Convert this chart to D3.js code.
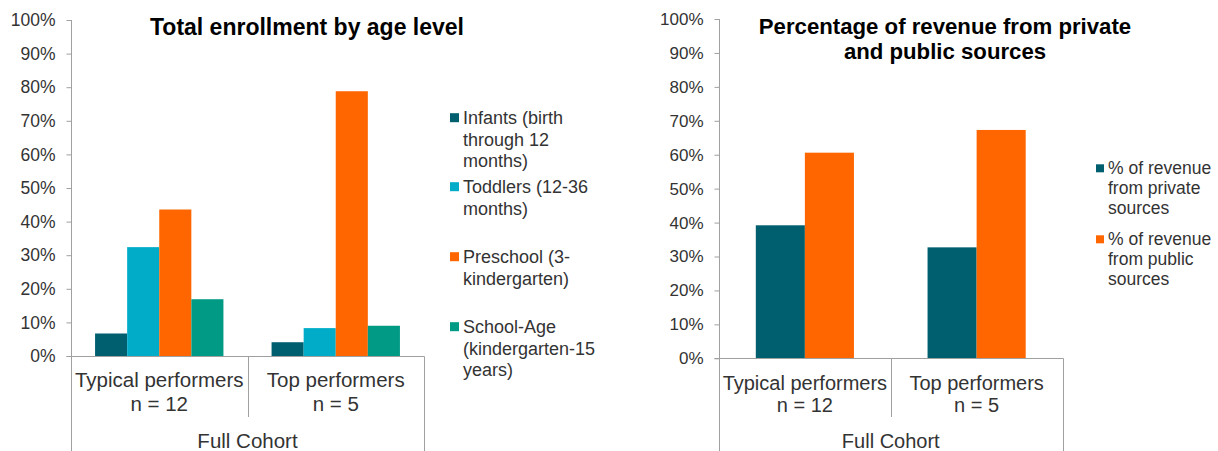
<!DOCTYPE html>
<html>
<head>
<meta charset="utf-8">
<script src="https://cdn.jsdelivr.net/npm/d3@7"></script>
<style>
  html, body { margin: 0; padding: 0; background: #fff; }
  svg { display: block; font-family: "Liberation Sans", Arial, sans-serif; }
</style>
</head>
<body>
<div id="chart"></div>
<script>
// categories shared by both panels
const groupNames = ['Typical performers', 'Top performers'];
const groupCounts = ['n = 12', 'n = 5'];
const cohortLabel = 'Full Cohort';
const yTicks = [0, 10, 20, 30, 40, 50, 60, 70, 80, 90, 100];

// left panel: enrollment by age level (% per group)
const enrollTitle = ['Total enrollment by age level'];
const enrollSeries = [
  ['Infants (birth', 'through 12', 'months)'],
  ['Toddlers (12-36', 'months)'],
  ['Preschool (3-', 'kindergarten)'],
  ['School-Age', '(kindergarten-15', 'years)'],
];
const enrollValues = [
  [6.7, 4.1],
  [32.4, 8.3],
  [43.6, 78.8],
  [16.9, 9.0],
];
const enrollColors = ['#005F6F', '#00ACC8', '#FF6600', '#009A85'];

// right panel: revenue sources
const revenueTitle = ['Percentage of revenue from private', 'and public sources'];
const revenueSeries = [
  ['% of revenue', 'from private', 'sources'],
  ['% of revenue', 'from public', 'sources'],
];
const revenueValues = [
  [39.2, 32.7],
  [60.6, 67.3],
];
const revenueColors = ['#005F6F', '#FF6600'];

const W = 1218, H = 451;
const axisColor = '#A0A0A0';
const textColor = '#333333';

const svg = d3.select('#chart').append('svg')
  .attr('width', W)
  .attr('height', H)
  .attr('viewBox', `0 0 ${W} ${H}`);

function drawPanel(p) {
  const g = svg.append('g');

  const x = d3.scaleBand().domain(groupNames).range([p.x0, p.x1]).padding(0);
  const inner = d3.scaleBand()
    .domain(d3.range(p.values.length))
    .range([0, x.bandwidth()])
    .paddingInner(0)
    .paddingOuter(0.75);
  const y = d3.scaleLinear().domain([0, 100]).range([p.yZero, p.yTop]);

  // bars
  p.values.forEach((vals, si) => {
    g.selectAll(null)
      .data(vals)
      .enter()
      .append('rect')
      .attr('x', (d, gi) => x(groupNames[gi]) + inner(si))
      .attr('y', (d) => y(d))
      .attr('width', inner.bandwidth())
      .attr('height', (d) => y(0) - y(d))
      .attr('fill', p.colors[si]);
  });

  // y axis
  const yAxis = d3.axisLeft(y).tickValues(yTicks).tickSize(5).tickPadding(11)
    .tickFormat((d) => d + '%');
  const ya = g.append('g')
    .attr('transform', `translate(${Math.round(p.x0) + 0.5},0)`)
    .call(yAxis);
  ya.select('.domain').remove();
  ya.selectAll('.tick line').attr('stroke', axisColor);
  ya.selectAll('.tick text')
    .attr('fill', textColor)
    .style('font-size', p.tickSize + 'px')
    .style('font-family', '"Liberation Sans", Arial, sans-serif');

  // axis spine runs down through the category box
  const ax = Math.round(p.x0) + 0.5;
  const zy = Math.round(y(0)) + 0.5;
  g.append('line').attr('x1', ax).attr('x2', ax)
    .attr('y1', Math.round(y(100))).attr('y2', H)
    .attr('stroke', axisColor);
  g.append('line').attr('x1', ax - 5).attr('x2', Math.round(p.x1) + 0.5)
    .attr('y1', zy).attr('y2', zy)
    .attr('stroke', axisColor);

  // group dividers
  const mid = Math.round(x(groupNames[1])) + 0.5;
  g.append('line').attr('x1', mid).attr('x2', mid)
    .attr('y1', zy).attr('y2', p.divBottom)
    .attr('stroke', axisColor);
  const right = Math.round(p.x1) + 0.5;
  g.append('line').attr('x1', right).attr('x2', right)
    .attr('y1', zy).attr('y2', H)
    .attr('stroke', axisColor);

  // category labels
  groupNames.forEach((name, i) => {
    const cx = x(name) + x.bandwidth() / 2;
    g.append('text').attr('x', cx).attr('y', p.labelY1)
      .attr('text-anchor', 'middle').attr('fill', textColor)
      .style('font-size', p.labelSize + 'px').text(name);
    g.append('text').attr('x', cx).attr('y', p.labelY2)
      .attr('text-anchor', 'middle').attr('fill', textColor)
      .style('font-size', p.labelSize + 'px').text(groupCounts[i]);
  });
  g.append('text').attr('x', (p.x0 + p.x1) / 2).attr('y', p.cohortY)
    .attr('text-anchor', 'middle').attr('fill', textColor)
    .style('font-size', p.labelSize + 'px').text(cohortLabel);

  // title
  p.title.forEach((line, i) => {
    g.append('text').attr('x', p.titleX).attr('y', p.titleY + i * 25)
      .attr('text-anchor', 'middle').attr('fill', '#000')
      .style('font-size', p.titleSize + 'px').style('font-weight', 'bold')
      .text(line);
  });

  // legend
  const leg = g.append('g');
  p.series.forEach((lines, si) => {
    const ly = p.legendY[si];
    leg.append('rect')
      .attr('x', p.legendX - p.sq - 4)
      .attr('y', ly - p.sq / 2)
      .attr('width', p.sq).attr('height', p.sq)
      .attr('fill', p.colors[si]);
    lines.forEach((t, li) => {
      leg.append('text')
        .attr('x', p.legendX)
        .attr('y', ly + li * p.legendLine)
        .attr('dy', '0.35em')
        .attr('fill', textColor)
        .style('font-size', p.legendSize + 'px')
        .text(t);
    });
  });
}

drawPanel({
  x0: 71, x1: 424, yTop: 20, yZero: 356, divBottom: 417,
  values: enrollValues, colors: enrollColors, series: enrollSeries,
  title: enrollTitle, titleX: 307, titleY: 35, titleSize: 23,
  tickSize: 17.5, labelSize: 20.5, labelY1: 387, labelY2: 411, cohortY: 448,
  legendX: 463, legendY: [117.7, 186.7, 256.7, 326.7], legendLine: 21.5,
  legendSize: 18, sq: 9,
});

drawPanel({
  x0: 719, x1: 1062.5, yTop: 19, yZero: 358.3, divBottom: 417,
  values: revenueValues, colors: revenueColors, series: revenueSeries,
  title: revenueTitle, titleX: 945, titleY: 34, titleSize: 22.2,
  tickSize: 17, labelSize: 20, labelY1: 390, labelY2: 412, cohortY: 448,
  legendX: 1108, legendY: [168.3, 239.3], legendLine: 20,
  legendSize: 17.5, sq: 8,
});
</script>
</body>
</html>
